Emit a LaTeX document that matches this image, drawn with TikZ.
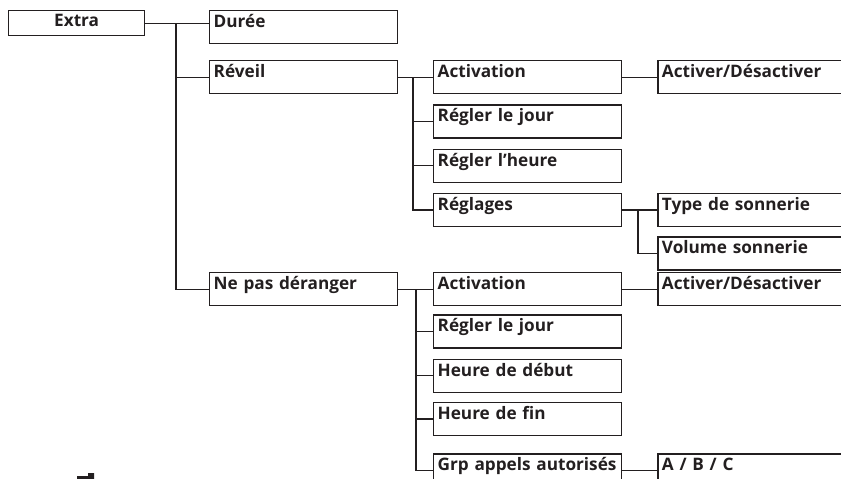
\documentclass[tikz,border=0pt]{standalone}
\usepackage{fontspec}
\setmainfont{Open Sans}
\usepackage{tikz}
\usetikzlibrary{positioning}
\definecolor{MenuInk}{HTML}{231F20}
\tikzset{
  menubox/.style={draw=MenuInk,line width=1.3pt,anchor=north west,inner xsep=4pt,inner ysep=3pt,text width=180pt,align=left,text height=14pt,text depth=13pt,font=\fontsize{17.2}{19}\selectfont\bfseries,text=MenuInk},
  rootbox/.style={menubox,text width=128pt,align=center,text height=13pt,text depth=6pt},
  leafbox/.style={menubox,text width=200pt},
  link/.style={line width=1.3pt,draw=MenuInk}
}

\begin{document}
\begin{tikzpicture}[x=1pt,y=-1pt,node distance=10pt and 35pt]
\useasboundingbox (0,0) rectangle (841,479);
\clip (0,0) rectangle (841,479);
\node[rootbox] (extra) at (8,10) {Extra};
\node[menubox] (duree) at (209,10) {Durée};
\node[menubox] (reveil) at (209,60) {Réveil};
\node[menubox] (nepas) at (209,272) {Ne pas déranger};
% Réveil
\node[menubox] (act1) at (433,60) {Activation};
\node[menubox,below=of act1] (jour1) {Régler le jour};
\node[menubox,below=of jour1] (heure1) {Régler l’heure};
\node[menubox,below=of heure1] (regl) {Réglages};
\node[leafbox,right=of act1] (onoff1) {Activer/Désactiver};
\node[leafbox,right=of regl] (type) {Type de sonnerie};
\node[leafbox,below=9pt of type] (volume) {Volume sonnerie};
% Ne pas déranger
\node[menubox] (act2) at (433,272) {Activation};
\node[menubox,below=8pt of act2] (jour2) {Régler le jour};
\node[menubox,below=of jour2] (debut) {Heure de début};
\node[menubox,below=9pt of debut] (fin) {Heure de fin};
\node[menubox,below=17pt of fin] (grp) {Grp appels autorisés};
\node[leafbox,right=of act2] (onoff2) {Activer/Désactiver};
\node[leafbox,right=of grp] (abc) {A / B / C};
% branch points
\coordinate (jx) at (176,0);
\coordinate (jr) at (413,0);
\coordinate (jn) at (416,0);
\coordinate (jt) at (638,0);
\draw[link] (extra.east) -- (extra.east -| duree.west);
\draw[link] (extra.east -| jx) |- (reveil.west);
\draw[link] (extra.east -| jx) |- (nepas.west);
\draw[link] (reveil) -- (act1);
\draw[link] (reveil.east -| jr) |- (jour1.west);
\draw[link] (reveil.east -| jr) |- (heure1.west);
\draw[link] (reveil.east -| jr) |- (regl.west);
\draw[link] (act1) -- (onoff1);
\draw[link] (regl) -- (type);
\draw[link] (regl.east -| jt) |- (volume.west);
\draw[link] (nepas) -- (act2);
\draw[link] (nepas.east -| jn) |- (jour2.west);
\draw[link] (nepas.east -| jn) |- (debut.west);
\draw[link] (nepas.east -| jn) |- (fin.west);
\draw[link] (nepas.east -| jn) |- (grp.west);
\draw[link] (act2) -- (onoff2);
\draw[link] (grp) -- (abc);
% cut-off mark
\fill[MenuInk] (77,479) -- (77,476) -- (88,476) -- (88,473) -- (94,473) -- (94,479) -- cycle;
\end{tikzpicture}
\end{document}
